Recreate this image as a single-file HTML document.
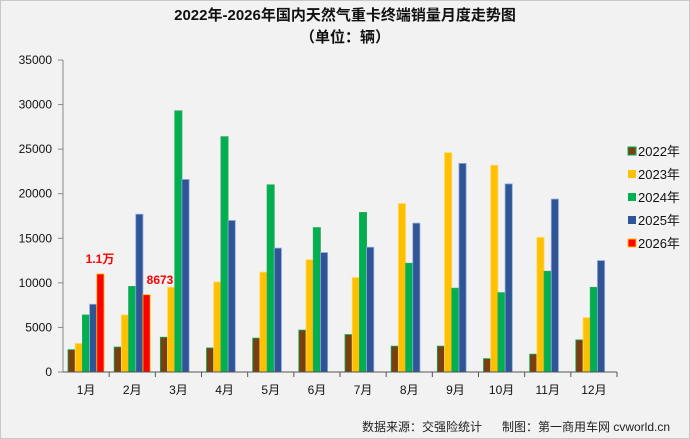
<!DOCTYPE html>
<html><head><meta charset="utf-8"><style>
body{margin:0;background:#fff}
svg{display:block;font-family:"Liberation Sans","Noto Sans CJK SC",sans-serif}
</style></head><body>
<svg width="690" height="439" xmlns="http://www.w3.org/2000/svg">
<rect x="0.5" y="0.5" width="689" height="438" fill="#f2f2f2" stroke="#c8c8c8"/>
<text x="345" y="20" text-anchor="middle" font-size="15" font-weight="bold" fill="#111">2022年-2026年国内天然气重卡终端销量月度走势图</text>
<text x="345" y="42" text-anchor="middle" font-size="15" font-weight="bold" fill="#111">（单位：辆）</text>
<g font-size="12" fill="#111" text-anchor="end" id="yl"></g>
<g id="bars"></g>
<line x1="63" y1="60" x2="63" y2="372" stroke="#888"/>
<line x1="63" y1="372" x2="617" y2="372" stroke="#555"/>
<g id="legend" font-size="13" fill="#111">
<rect x="628" y="147" width="8" height="8" fill="#7a3e10" stroke="#00b050"/><text x="638" y="156">2022年</text>
<rect x="628" y="170" width="8" height="8" fill="#ffc000"/><text x="638" y="179">2023年</text>
<rect x="628" y="193" width="8" height="8" fill="#00b050"/><text x="638" y="202">2024年</text>
<rect x="628" y="216" width="8" height="8" fill="#2f5597"/><text x="638" y="225">2025年</text>
<rect x="628" y="239" width="8" height="8" fill="#ff0000" stroke="#ffc000"/><text x="638" y="248">2026年</text>
</g>
<text x="100" y="263" text-anchor="middle" font-size="12" font-weight="bold" fill="#ff0000">1.1万</text>
<text x="160" y="284" text-anchor="middle" font-size="12" font-weight="bold" fill="#ff0000">8673</text>
<text x="362" y="431" font-size="12" fill="#222">数据来源：交强险统计</text>
<text x="502" y="431" font-size="12" fill="#222">制图：第一商用车网 cvworld.cn</text>
</svg>
<script>
var s="http://www.w3.org/2000/svg",svg=document.querySelector('svg');
function el(t,a,p,txt){var e=document.createElementNS(s,t);for(var k in a)e.setAttribute(k,a[k]);if(txt)e.textContent=txt;(p||svg).appendChild(e);return e;}
var yl=document.getElementById('yl'),bars=document.getElementById('bars');
var y0=372,sc=312/35000;
for(var v=0;v<=35000;v+=5000){var y=y0-v*sc;el('text',{x:52,y:y+4},yl,String(v));el('line',{x1:58,y1:y,x2:63,y2:y,stroke:'#888'},svg);}
var d=[[2500,3200,6400,7600,11000],[2800,6400,9600,17700,8673],[3900,9500,29300,21600],[2700,10100,26400,17000],[3800,11200,21000,13900],[4700,12600,16200,13400],[4200,10600,17900,14000],[2900,18900,12200,16700],[2900,24600,9400,23400],[1500,23200,8900,21100],[2000,15100,11300,19400],[3600,6100,9500,12500]];
var fill=['#7a3e10','#ffc000','#00b050','#2f5597','#ff0000'],st=['#00b050','#ffd966','#2ea85a','#8faadc','#ffc000'];
var gw=554/12,bw=7.2;
d.forEach(function(g,i){var gx=63+i*gw;
 el('line',{x1:gx+gw,y1:372,x2:gx+gw,y2:377,stroke:'#555'});
 el('text',{x:gx+gw/2,y:394,'text-anchor':'middle','font-size':'12',fill:'#111'},svg,(i+1)+'月');
 g.forEach(function(v,j){var h=v*sc;el('rect',{x:gx+5+j*bw,y:y0-h,width:bw,height:h,fill:fill[j],stroke:st[j],'stroke-width':0.8},bars);});
});
</script>
</body></html>
